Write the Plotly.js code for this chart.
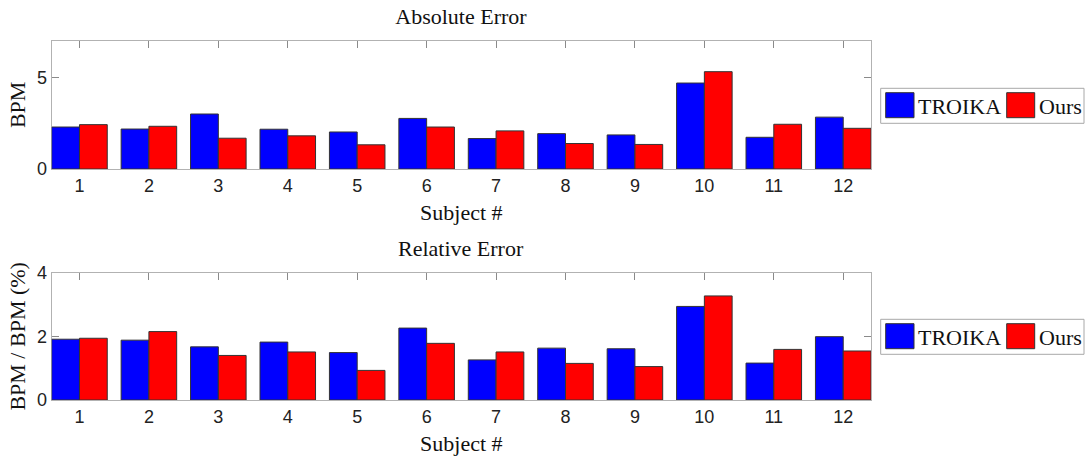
<!DOCTYPE html>
<html>
<head>
<meta charset="utf-8">
<script src="https://cdn.plot.ly/plotly-3.0.1.min.js"></script>
<style>html,body{margin:0;padding:0;background:#fff;}#chart{width:1086px;height:459px;}</style>
</head>
<body>
<div id="chart"></div>
<script>
// ---- data ----
const subjects = [1, 2, 3, 4, 5, 6, 7, 8, 9, 10, 11, 12];
const seriesNames = ['TROIKA', 'Ours'];
const absTroika = [2.29, 2.18, 3.00, 2.17, 2.02, 2.76, 1.66, 1.93, 1.86, 4.69, 1.73, 2.83];
const absOurs   = [2.42, 2.33, 1.68, 1.81, 1.32, 2.29, 2.08, 1.39, 1.34, 5.31, 2.44, 2.22];
const relTroika = [1.91, 1.88, 1.67, 1.82, 1.49, 2.26, 1.26, 1.63, 1.61, 2.94, 1.16, 1.99];
const relOurs   = [1.94, 2.15, 1.40, 1.51, 0.93, 1.78, 1.51, 1.15, 1.05, 3.27, 1.59, 1.54];
const absTicks = [0, 5];
const relTicks = [0, 2, 4];

// ---- style ----
const W = 1086, H = 459;
const colors = ['#0000ff', '#ff0000'];
const serif = 'Liberation Serif, Times New Roman, serif';
const sans = 'Liberation Sans, Arial, sans-serif';
const frame = '#b2b2b2';
const px = x => x / W;
const py = y => 1 - y / H;

function bar(y, i, xa, ya) {
  return {
    type: 'bar', x: subjects, y: y, name: seriesNames[i], xaxis: xa, yaxis: ya,
    marker: {color: colors[i], line: {color: '#333333', width: 1}},
    showlegend: false, hoverinfo: 'x+y+name'
  };
}
const data = [
  bar(absTroika, 0, 'x', 'y'), bar(absOurs, 1, 'x', 'y'),
  bar(relTroika, 0, 'x2', 'y2'), bar(relOurs, 1, 'x2', 'y2')
];

const xDom = [px(51.7), px(871)];
function xAxis(anchor) {
  return {
    domain: xDom, anchor: anchor, range: [0.6, 12.4], tickvals: subjects,
    ticks: 'inside', ticklen: 7, tickcolor: '#8a8a8a', showline: true, linecolor: frame,
    mirror: 'ticks', showgrid: false, zeroline: false, layer: 'below traces',
    tickfont: {family: sans, size: 18, color: '#222'},
    title: {text: 'Subject #', font: {family: serif, size: 22, color: '#111'}, standoff: 10},
    automargin: false, fixedrange: true
  };
}
function yAxis(anchor, dom, range, ticks, title) {
  return {
    domain: dom, anchor: anchor, range: range, tickvals: ticks,
    ticks: 'inside', ticklen: 7, tickcolor: '#8a8a8a', showline: true, linecolor: frame,
    mirror: 'ticks', showgrid: false, zeroline: false, layer: 'below traces',
    tickfont: {family: sans, size: 18, color: '#222'},
    title: {text: title, font: {family: serif, size: 22, color: '#111'}, standoff: 5},
    automargin: false, fixedrange: true
  };
}

// custom legend boxes (one per panel)
const shapes = [], annotations = [];
function legendAt(dy) {
  shapes.push({type: 'rect', xref: 'paper', yref: 'paper', x0: px(880.7), x1: px(1084), y0: py(123.3 + dy), y1: py(88.3 + dy),
               line: {color: '#a8a8a8', width: 1}, fillcolor: '#ffffff'});
  const sw = [[885.7, 914], [1006.7, 1034.7]];
  const tx = [916, 1037];
  for (let i = 0; i < 2; i++) {
    shapes.push({type: 'rect', xref: 'paper', yref: 'paper', x0: px(sw[i][0]), x1: px(sw[i][1]), y0: py(117.7 + dy), y1: py(92.7 + dy),
                 line: {color: '#333333', width: 1}, fillcolor: colors[i]});
    annotations.push({text: seriesNames[i], xref: 'paper', yref: 'paper', x: px(tx[i]), y: py(106.5 + dy),
                      xanchor: 'left', yanchor: 'middle', showarrow: false,
                      font: {family: serif, size: 22, color: '#111'}});
  }
}
legendAt(0);
legendAt(231);

annotations.push({text: 'Relative Error', xref: 'paper', yref: 'paper', x: px(461), y: py(248),
                  xanchor: 'center', yanchor: 'middle', showarrow: false,
                  font: {family: serif, size: 22, color: '#111'}});

const layout = {
  width: W, height: H, margin: {l: 0, r: 0, t: 0, b: 0},
  paper_bgcolor: '#ffffff', plot_bgcolor: '#ffffff',
  title: {text: 'Absolute Error', xref: 'container', yref: 'container', x: px(461), y: py(16.5),
          xanchor: 'center', yanchor: 'middle', font: {family: serif, size: 22, color: '#111'}},
  barmode: 'group', bargap: 0.2, bargroupgap: 0,
  showlegend: false,
  xaxis: xAxis('y'),
  yaxis: yAxis('x', [py(169), py(40.7)], [0, 7], absTicks, 'BPM'),
  xaxis2: xAxis('y2'),
  yaxis2: yAxis('x2', [py(400), py(272.7)], [0, 4], relTicks, 'BPM / BPM (%)'),
  shapes: shapes, annotations: annotations
};

Plotly.newPlot('chart', data, layout, {displayModeBar: false, staticPlot: true});
</script>
</body>
</html>
